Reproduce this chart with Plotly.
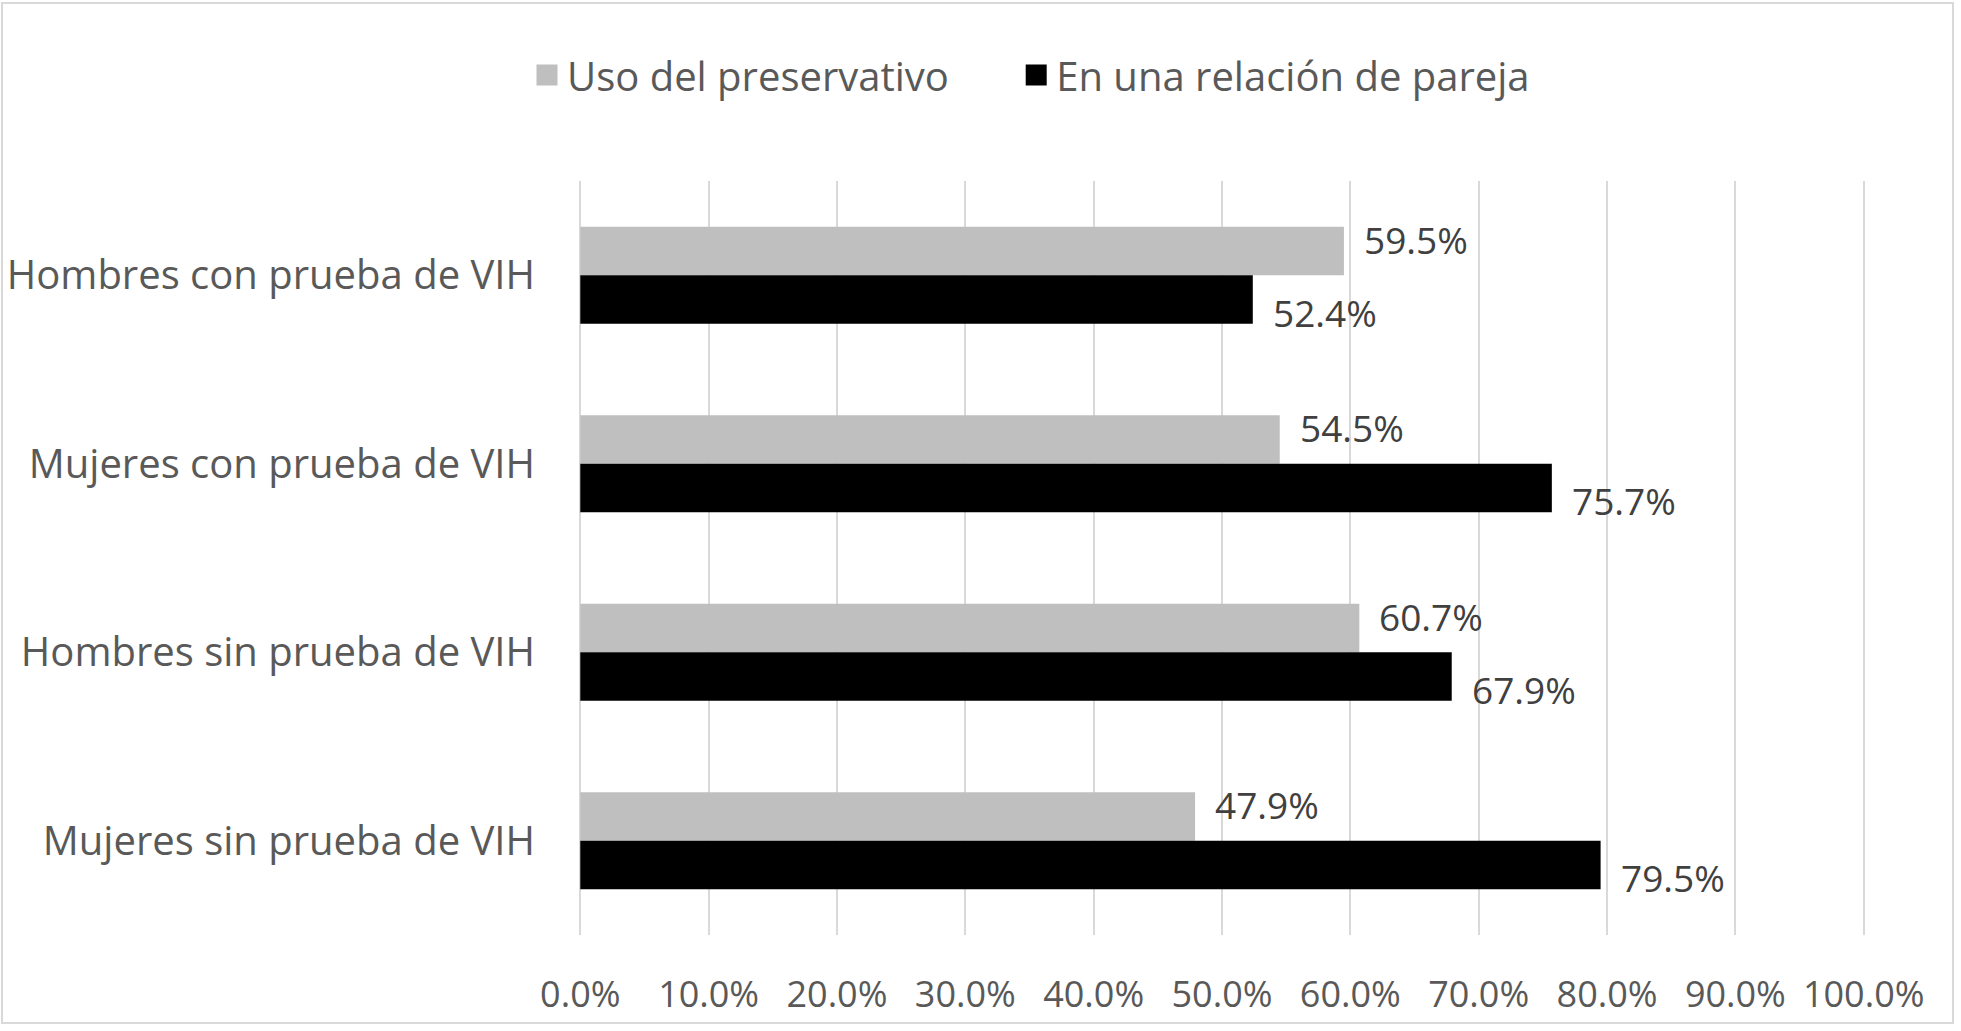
import plotly.graph_objects as go

categories = ["Hombres con prueba de VIH", "Mujeres con prueba de VIH",
              "Hombres sin prueba de VIH", "Mujeres sin prueba de VIH"]
uso_preservativo = [59.5, 54.5, 60.7, 47.9]
relacion_pareja = [52.4, 75.7, 67.9, 79.5]
series_names = ["Uso del preservativo", "En una relación de pareja"]
series_colors = ["#bfbfbf", "#000000"]
tick_vals = [0, 10, 20, 30, 40, 50, 60, 70, 80, 90, 100]
tick_text = [f"{v:.1f}%" for v in tick_vals]

W, H = 1961, 1031
L, R, T, B = 579, 96, 181, 96
FONT = "Open Sans"
TXT = "#595959"
LBL = "#404040"

fig = go.Figure()
for name, vals, col in zip(series_names, [uso_preservativo, relacion_pareja], series_colors):
    fig.add_trace(go.Bar(y=categories, x=vals, orientation="h", name=name,
                         marker=dict(color=col, line=dict(width=0)), showlegend=False))
# legend entries with larger square swatches (extra spacing after first entry)
legend_pad = ["\u00a0" * 6, ""]
for name, col, pad in zip(series_names, series_colors, legend_pad):
    fig.add_trace(go.Scatter(x=[None], y=[None], mode="markers", name=name + pad,
                             marker=dict(symbol="square", size=16, color=col,
                                         line=dict(color=col, width=5))))

ann = []
for vals, ys in [(uso_preservativo, 36), (relacion_pareja, -37)]:
    for c, v in zip(categories, vals):
        ann.append(dict(x=v, y=c, xref="x", yref="y", text=f"{v:.1f}%", showarrow=False,
                        xanchor="left", yanchor="middle", xshift=18, yshift=ys,
                        font=dict(family=FONT, size=37, color=LBL)))

pw = W - L - R
ph = H - T - B
fig.add_shape(type="rect", xref="paper", yref="paper",
              x0=(2 - L) / pw, x1=(1953 - L) / pw,
              y0=(H - B - 1023) / ph, y1=(H - B - 3) / ph,
              line=dict(color="#d9d9d9", width=2), fillcolor="rgba(0,0,0,0)", layer="below")

fig.update_layout(
    width=W, height=H,
    margin=dict(l=L, r=R, t=T, b=B, pad=0),
    paper_bgcolor="white", plot_bgcolor="white",
    barmode="group", bargap=0.485, bargroupgap=0,
    font=dict(family=FONT, color=TXT),
    legend=dict(orientation="h", x=527 / W, xanchor="left", xref="container",
                y=1 - 75 / H, yanchor="middle", yref="container",
                font=dict(family=FONT, size=40, color=TXT),
                traceorder="normal", itemsizing="trace"),
    annotations=ann,
    xaxis=dict(range=[-0.1, 100.1], tickvals=tick_vals, ticktext=tick_text,
               showgrid=True, gridcolor="#d9d9d9", gridwidth=2, zeroline=False,
               showline=False, ticks="outside", ticklen=28, tickcolor="rgba(0,0,0,0)",
               tickfont=dict(family=FONT, size=36, color=TXT), fixedrange=True,
               automargin=False),
    yaxis=dict(autorange="reversed", showgrid=False, zeroline=False, showline=False,
               ticks="outside", ticklen=35, tickcolor="rgba(0,0,0,0)",
               tickfont=dict(family=FONT, size=40, color=TXT), automargin=False),
)

fig.write_html("out.html", config={"displayModeBar": False},
               post_script="document.body.style.margin='0';")
